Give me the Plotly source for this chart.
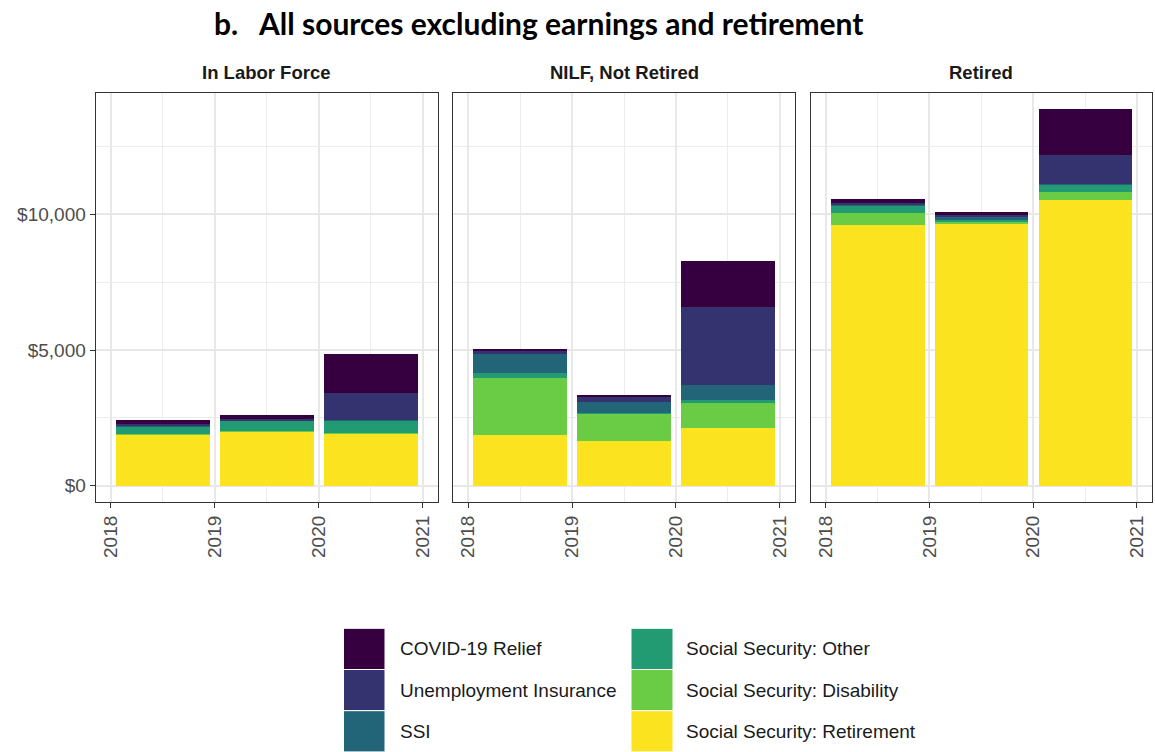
import plotly.graph_objects as go

# Facets, years and the stacked income components (mean dollars per person)
panels = ["In Labor Force", "NILF, Not Retired", "Retired"]
years = [2018, 2019, 2020]

# Values ordered: In Labor Force 2018-2020, NILF 2018-2020, Retired 2018-2020
ss_retirement = [1890, 2000, 1940, 1889, 1667, 2148, 9605, 9642, 10550]
ss_disability = [30, 37, 30, 2086, 1000, 926, 457, 74, 296]
ss_other = [284, 370, 444, 185, 37, 100, 272, 74, 259]
ssi = [20, 20, 20, 740, 407, 531, 30, 123, 30]
unemployment = [60, 60, 988, 60, 160, 2877, 70, 86, 1074]
covid_relief = [150, 148, 1432, 74, 100, 1691, 123, 111, 1667]

series_names = [
    "Social Security: Retirement",
    "Social Security: Disability",
    "Social Security: Other",
    "SSI",
    "Unemployment Insurance",
    "COVID-19 Relief",
]
series_values = [ss_retirement, ss_disability, ss_other, ssi, unemployment, covid_relief]
series_colors = ["#FBE31F", "#6ACC44", "#229A72", "#226579", "#343370", "#360040"]

W, H = 1155, 752


def px_x(x):
    return x / W


def px_y(y):
    return 1 - y / H


fig = go.Figure()

panel_domains = [(95.7, 438.0), (453.0, 795.0), (810.7, 1152.0)]
y_domain = [px_y(502.0), px_y(92.7)]
tick_font = dict(family="Liberation Sans, Arial", size=19, color="#4D4D4D")

for p, panel in enumerate(panels):
    suffix = "" if p == 0 else str(p + 1)
    for name, vals, color in zip(series_names, series_values, series_colors):
        fig.add_trace(go.Bar(
            x=[y + 0.5 for y in years],
            y=vals[p * 3:(p + 1) * 3],
            width=0.9,
            name=name,
            marker=dict(color=color, line=dict(width=0)),
            showlegend=False,
            xaxis="x" + suffix,
            yaxis="y" + suffix,
            hovertemplate=panel + "<br>%{x:.0f}<br>" + name + ": $%{y:,.0f}<extra></extra>",
        ))

    axis_common = dict(
        showline=True, mirror=True, linecolor="#333333", linewidth=1.2,
        gridcolor="#E8E8E8", gridwidth=1.6, zeroline=False,
    )
    fig.layout["xaxis" + suffix] = dict(
        axis_common,
        domain=[px_x(panel_domains[p][0]), px_x(panel_domains[p][1])],
        anchor="y" + suffix,
        range=[2017.855, 2021.145],
        tickvals=[2018, 2019, 2020, 2021],
        ticktext=["2018", "2019", "2020", "2021"],
        tickangle=-90,
        ticks="outside", ticklen=5, tickwidth=1.2, tickcolor="#333333",
        tickfont=tick_font,
        minor=dict(tickvals=[2018.5, 2019.5, 2020.5], showgrid=True,
                   gridcolor="#ECECEC", gridwidth=1.1),
    )
    y_ax = dict(
        axis_common,
        domain=y_domain,
        anchor="x" + suffix,
        range=[-600, 14480],
        tickvals=[0, 5000, 10000],
        minor=dict(tickvals=[2500, 7500, 12500], showgrid=True,
                   gridcolor="#ECECEC", gridwidth=1.1),
    )
    if p == 0:
        y_ax.update(
            tickformat="$,.0f",
            ticks="outside", ticklen=5, tickwidth=1.2, tickcolor="#333333",
            tickfont=tick_font,
        )
    else:
        y_ax.update(showticklabels=False, ticks="")
    fig.layout["yaxis" + suffix] = y_ax

    # facet strip label
    fig.add_annotation(
        text="<b>" + panel + "</b>",
        x=(px_x(panel_domains[p][0]) + px_x(panel_domains[p][1])) / 2,
        y=px_y(73), xref="paper", yref="paper",
        xanchor="center", yanchor="middle", showarrow=False,
        font=dict(family="Liberation Sans, Arial", size=18.5, color="#1A1A1A"),
    )

# chart title
fig.add_annotation(
    text="<b>b.   All sources excluding earnings and retirement</b>",
    x=px_x(539), y=px_y(23), xref="paper", yref="paper",
    xanchor="center", yanchor="middle", showarrow=False,
    font=dict(family="Lato, Open Sans", size=30, color="#000000"),
)

# legend: two columns of three keys, top to bottom
legend_order = [5, 4, 3, 2, 1, 0]
key_cols = [(343.5, 385.0, 397.5), (631.0, 673.0, 684.0)]
key_top, key_h = 628.3, 41.2
for k, idx in enumerate(legend_order):
    col, row = divmod(k, 3)
    x0, x1, tx = key_cols[col]
    y0 = key_top + row * key_h
    y1 = y0 + key_h
    fig.add_shape(
        type="rect", xref="paper", yref="paper",
        x0=px_x(x0), x1=px_x(x1), y0=px_y(y1), y1=px_y(y0),
        fillcolor=series_colors[idx], line=dict(color="white", width=1),
        layer="above",
    )
    fig.add_annotation(
        text=series_names[idx], x=px_x(tx), y=px_y((y0 + y1) / 2),
        xref="paper", yref="paper", xanchor="left", yanchor="middle",
        showarrow=False,
        font=dict(family="Liberation Sans, Arial", size=19, color="#1A1A1A"),
    )

fig.update_layout(
    template="none",
    width=W, height=H,
    margin=dict(l=0, r=0, t=0, b=0),
    barmode="stack",
    bargap=0,
    paper_bgcolor="white",
    plot_bgcolor="white",
    showlegend=False,
)

fig.write_html("out.html")
